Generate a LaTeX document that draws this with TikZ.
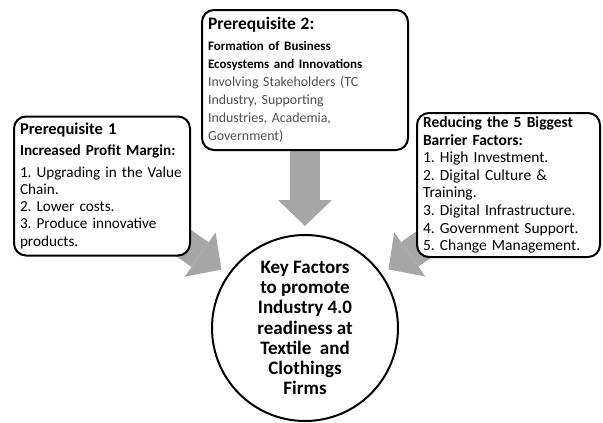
\documentclass[tikz,border=0pt]{standalone}
\usepackage{fontspec}
\setmainfont{Carlito}
\usepackage{tikz}
\usetikzlibrary{arrows.meta, positioning, shapes.geometric, backgrounds}
\usepackage{xcolor}
\definecolor{arrowgray}{RGB}{166,166,166}
\definecolor{textgray}{RGB}{80,80,80}
\frenchspacing

\tikzset{
  factorbox/.style={draw=black, fill=white, line width=2pt, rounded corners=12pt,
    align=left, anchor=center, inner xsep=6pt, inner ysep=2pt},
  hubcircle/.style={circle, draw=black, fill=white, line width=2pt,
    minimum size=186pt, inner sep=0pt, align=center,
    font=\fontsize{19}{20.3}\selectfont\bfseries},
  bigarrow/.style={draw=arrowgray, line width=30pt, shorten >=8pt,
    -{Triangle[length=26pt, width=54pt, line width=0pt]}}
}

\begin{document}
\begin{tikzpicture}[x=1pt, y=-1pt]
  \useasboundingbox (0,0) rectangle (603,423);

  % the three groups of factors
  \node[factorbox, text width=164pt, minimum height=139pt,
        font=\fontsize{15.2}{17.2}\selectfont] (prereq1) at (102,186)
    {{\fontsize{16.5}{19}\selectfont\bfseries Prerequisite 1}\\[3pt]
     {\bfseries Increased Profit Margin:}\\[5pt]
     1. Upgrading in the Value\\
     Chain.\\
     2. Lower costs.\\
     3. Produce innovative\\
     products.};

  \node[factorbox, text width=194pt, minimum height=140pt,
        font=\fontsize{13.9}{18}\selectfont] (prereq2) at (305,80)
    {{\fontsize{17.5}{19}\selectfont\bfseries Prerequisite 2:}\\[4pt]
     {\fontsize{13}{16.5}\selectfont\bfseries Formation of Business\\
      Ecosystems and Innovations}\\
     {\color{textgray}Involving Stakeholders (TC\\
      Industry, Supporting\\
      Industries, Academia,\\
      Government)}};

  \node[factorbox, text width=171pt, minimum height=144pt,
        font=\fontsize{15.5}{17.6}\selectfont] (barriers) at (508.5,185)
    {{\bfseries Reducing the 5 Biggest\\
      Barrier Factors:}\\
     1. High Investment.\\
     2. Digital Culture \&\\
     Training.\\
     3. Digital Infrastructure.\\
     4. Government Support.\\
     5. Change Management.};

  % central goal
  \node[hubcircle] (keyfactors) at (305,328)
    {Key Factors\\ to promote\\ Industry 4.0\\ readiness at\\ Textile\ \ and\\ Clothings\\ Firms};

  % block arrows behind the boxes
  \begin{scope}[on background layer]
    \draw[bigarrow] (prereq1.center) -- (keyfactors);
    \draw[bigarrow] (prereq2.center) -- (keyfactors);
    \draw[bigarrow] (barriers.center) -- (keyfactors);
  \end{scope}
\end{tikzpicture}
\end{document}
